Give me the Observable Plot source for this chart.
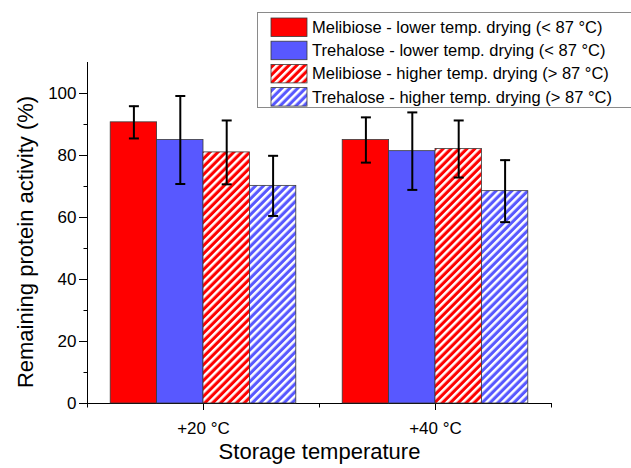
<!DOCTYPE html>
<html>
<head>
<meta charset="utf-8">
<script src="https://cdn.jsdelivr.net/npm/d3@7"></script>
<script src="https://cdn.jsdelivr.net/npm/@observablehq/plot@0.6"></script>
<style>
  html, body { margin: 0; padding: 0; background: #fff; }
  #chart { width: 631px; height: 468px; }
</style>
</head>
<body>
<div id="chart"></div>
<script>
// ---- Data ----
const temperatures = ["+20 °C", "+40 °C"];
const seriesNames = [
  "Melibiose - lower temp. drying (< 87 °C)",
  "Trehalose - lower temp. drying (< 87 °C)",
  "Melibiose - higher temp. drying (> 87 °C)",
  "Trehalose - higher temp. drying (> 87 °C)"
];
const melibioseLower = [90.7, 85.0];
const melibioseLowerErr = [5.2, 7.3];
const trehaloseLower = [85.0, 81.4];
const trehaloseLowerErr = [14.2, 12.5];
const melibioseHigher = [81.0, 82.1];
const melibioseHigherErr = [10.3, 9.2];
const trehaloseHigher = [70.2, 68.5];
const trehaloseHigherErr = [9.7, 10.0];
const yTicks = [0, 20, 40, 60, 80, 100];
const yMinorTicks = [10, 30, 50, 70, 90];

// ---- Styling ----
const seriesFills = ["#ff0000", "#5858ff", "url(#hatch-red)", "url(#hatch-blue)"];
const hatchBases = {"hatch-red": "#ff0000", "hatch-blue": "#5858ff"};

const values = [melibioseLower, trehaloseLower, melibioseHigher, trehaloseHigher];
const errors = [melibioseLowerErr, trehaloseLowerErr, melibioseHigherErr, trehaloseHigherErr];

// group layout in x units: each temperature group spans 1 unit, bars take 0.2 each
const barW = 0.2, groupPad = 0.1;
const rows = [];
seriesNames.forEach((s, si) => temperatures.forEach((t, ti) => {
  const v = values[si][ti], e = errors[si][ti];
  rows.push({series: s, si, temp: t, ti, value: v, err: e,
    x1: ti + groupPad + barW * si, x2: ti + groupPad + barW * (si + 1),
    xc: ti + groupPad + barW * (si + 0.5), lo: v - e, hi: v + e});
}));
const groupCenters = temperatures.map((t, i) => i + 0.5);
const groupEdges = [0, ...temperatures.map((t, i) => i + 1)];

// custom tick / cap symbols
const tickLeft = {draw(ctx) { ctx.moveTo(0, 0); ctx.lineTo(-4, 0); }};
const tickDown = {draw(ctx) { ctx.moveTo(0, 0); ctx.lineTo(0, 4); }};
const capSym = {draw(ctx) { ctx.moveTo(-5, 0); ctx.lineTo(5, 0); }};

const chart = Plot.plot({
  width: 631,
  height: 468,
  marginLeft: 87,
  marginRight: 80,
  marginTop: 62,
  marginBottom: 65,
  style: {fontFamily: "'Liberation Sans', Arial, sans-serif", fontSize: "17px", background: "#fff", color: "#000", overflow: "visible"},
  x: {domain: [0, temperatures.length], ticks: groupCenters, tickFormat: d => temperatures[Math.floor(d)],
      tickSize: 7, tickPadding: 11, line: true, label: null},
  y: {domain: [0, 110], ticks: yTicks, tickSize: 8, tickPadding: 3, line: true, label: null},
  marks: [
    ...seriesNames.map((s, i) => Plot.rectY(rows.filter(d => d.si === i), {
      x1: "x1", x2: "x2", y1: d => 0, y2: "value",
      fill: seriesFills[i], stroke: "#3a3a3a", strokeWidth: 0.8
    })),
    Plot.ruleX(rows, {x: "xc", y1: "lo", y2: "hi", stroke: "#000", strokeWidth: 2}),
    Plot.dot(rows, {x: "xc", y: "hi", symbol: capSym, fill: "none", stroke: "#000", strokeWidth: 2}),
    Plot.dot(rows, {x: "xc", y: "lo", symbol: capSym, fill: "none", stroke: "#000", strokeWidth: 2}),
    Plot.dot(yMinorTicks, {x: d => 0, y: d => d, symbol: tickLeft, fill: "none", stroke: "#000", strokeWidth: 1}),
    Plot.dot(groupEdges, {x: d => d, y: d => 0, symbol: tickDown, fill: "none", stroke: "#000", strokeWidth: 1}),
    Plot.text(["Storage temperature"], {frameAnchor: "bottom", textAnchor: "middle", dy: 55, fontSize: 22, fill: "#000"}),
    Plot.text(["Remaining protein activity (%)"], {frameAnchor: "left", textAnchor: "middle", rotate: -90, dx: -62, dy: 9, fontSize: 22, fill: "#000"})
  ]
});

document.getElementById("chart").appendChild(chart);

// hatch patterns
const svg = d3.select(chart);
const defs = svg.insert("defs", ":first-child");
Object.entries(hatchBases).forEach(([id, base]) => {
  const p = defs.append("pattern").attr("id", id).attr("patternUnits", "userSpaceOnUse")
    .attr("width", 5.6).attr("height", 5.6).attr("patternTransform", "rotate(45)");
  p.append("rect").attr("width", 5.6).attr("height", 5.6).attr("fill", base);
  p.append("rect").attr("width", 2.5).attr("height", 5.6).attr("fill", "#fff");
});

// legend (drawn over the plot, top right)
const lg = svg.append("g").attr("font-family", "'Liberation Sans', Arial, sans-serif")
  .attr("font-size", 16.5).attr("text-anchor", "start");
lg.append("rect").attr("x", 257.5).attr("y", 12.5).attr("width", 400).attr("height", 95)
  .attr("fill", "#fff").attr("stroke", "#8a8a8a").attr("stroke-width", 1);
seriesNames.forEach((s, i) => {
  const top = 18 + i * 23.2;
  lg.append("rect").attr("x", 271).attr("y", top).attr("width", 36).attr("height", 18.5)
    .attr("fill", seriesFills[i]).attr("stroke", "#3a3a3a").attr("stroke-width", 0.8);
  lg.append("text").attr("x", 312).attr("y", top + 15).attr("fill", "#000").attr("text-anchor", "start").text(s);
});
</script>
</body>
</html>
